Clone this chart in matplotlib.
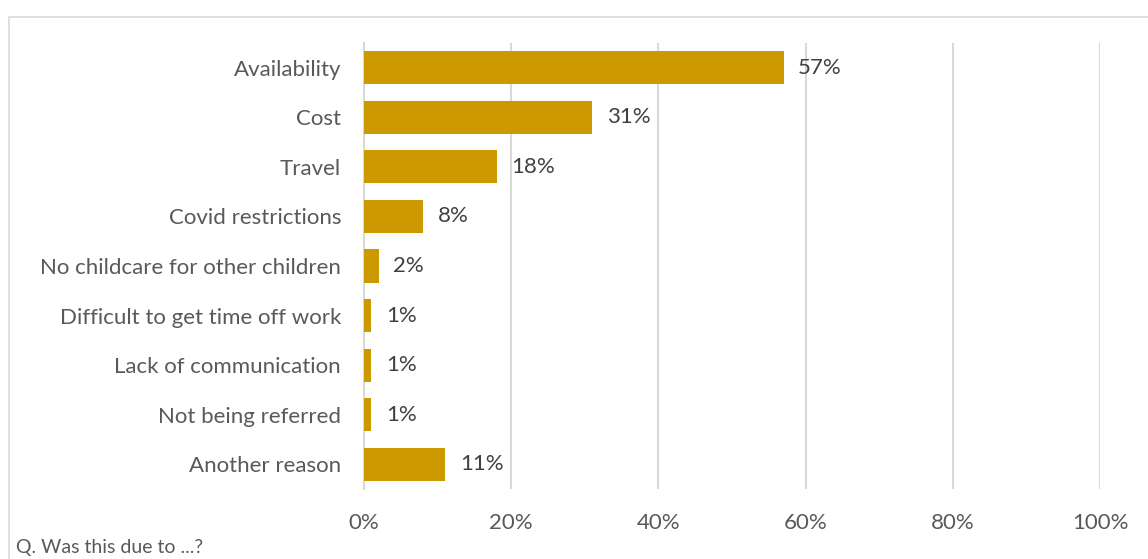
import matplotlib.pyplot as plt
from matplotlib.patches import Rectangle
from matplotlib.ticker import PercentFormatter

reasons = [
    "Availability",
    "Cost",
    "Travel",
    "Covid restrictions",
    "No childcare for other children",
    "Difficult to get time off work",
    "Lack of communication",
    "Not being referred",
    "Another reason",
]
shares = [57, 31, 18, 8, 2, 1, 1, 1, 11]
x_ticks = [0, 20, 40, 60, 80, 100]

plt.rcParams["font.family"] = ["Lato", "DejaVu Sans"]

fig = plt.figure(figsize=(11.48, 5.59), dpi=100)
ax = fig.add_axes([0.3171, 0.1252, 0.6411, 0.7979])

ypos = list(range(len(reasons)))
bars = ax.barh(ypos, shares, height=0.67, color="#cc9900", zorder=3)

for bar, v in zip(bars, shares):
    ax.text(bar.get_width() + 2.0, bar.get_y() + bar.get_height() / 2, f"{v}%",
            va="center", ha="left", fontsize=16, color="#404040")

ax.set_xlim(0, 100)
ax.set_ylim(len(reasons) - 0.5, -0.5)
ax.set_yticks(ypos)
ax.set_yticklabels(reasons)
ax.set_xticks(x_ticks)
ax.xaxis.set_major_formatter(PercentFormatter(decimals=0))

ax.grid(axis="x", color="#d9d9d9", linewidth=1.5, zorder=0)
for side in ["top", "right", "bottom"]:
    ax.spines[side].set_visible(False)
ax.spines["left"].set_color("#d9d9d9")
ax.spines["left"].set_linewidth(1.5)

ax.tick_params(axis="both", length=0, labelsize=16, labelcolor="#595959")
ax.tick_params(axis="y", pad=16.5)
ax.tick_params(axis="x", pad=17)

# chart frame, trimmed at the right and bottom edges
frame = Rectangle((9 / 1148, -0.05), 1.1, 1 - 17 / 559 + 0.05,
                  transform=fig.transFigure, fill=False,
                  edgecolor="#d9d9d9", linewidth=1.2)
fig.add_artist(frame)

fig.text(16 / 1148, 1 - 547 / 559, "Q. Was this due to ...?",
         fontsize=14, color="#595959", va="center", ha="left")

fig.savefig("out.png", dpi=100)
